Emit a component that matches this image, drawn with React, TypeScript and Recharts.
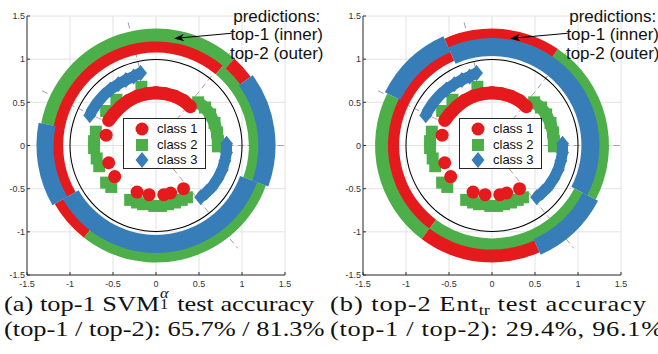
import React from 'react';
import {
  ScatterChart,
  Scatter,
  XAxis,
  YAxis,
  CartesianGrid,
  ReferenceLine,
  PieChart,
  Pie,
  Cell,
  Legend,
} from 'recharts';

// ---------------- data ----------------
const CLASS_COLORS: Record<number, string> = { 1: '#e41a1c', 2: '#4daf4a', 3: '#377eb8' };
const AXIS_TICKS = [-1.5, -1, -0.5, 0, 0.5, 1, 1.5];
const LEGEND_LABELS = ['class 1', 'class 2', 'class 3'];
const ANNOTATION_LINES = ['predictions:', 'top-1 (inner)', 'top-2 (outer)'];

// test points
const class1Arc = [
  { x: 0.4, y: 0.45 }, { x: 0.32, y: 0.52 }, { x: 0.22, y: 0.57 }, { x: 0.11, y: 0.6 },
  { x: 0.0, y: 0.61 }, { x: -0.11, y: 0.6 }, { x: -0.22, y: 0.57 }, { x: -0.32, y: 0.52 },
  { x: -0.41, y: 0.45 }, { x: -0.49, y: 0.37 }, { x: -0.55, y: 0.29 },
];
const class1Points = [
  { x: -0.58, y: 0.12 }, { x: -0.55, y: -0.2 }, { x: -0.48, y: -0.36 }, { x: -0.22, y: -0.54 },
  { x: -0.08, y: -0.57 }, { x: 0.09, y: -0.57 }, { x: 0.17, y: -0.55 }, { x: 0.32, y: -0.5 },
];
const class2ArcRight = [
  { x: 0.49, y: 0.5 }, { x: 0.57, y: 0.44 }, { x: 0.63, y: 0.36 }, { x: 0.68, y: 0.26 },
  { x: 0.71, y: 0.15 }, { x: 0.72, y: 0.05 }, { x: 0.72, y: -0.01 },
];
const class2Bottom = [
  { x: -0.3, y: -0.63 }, { x: -0.22, y: -0.66 }, { x: -0.15, y: -0.68 }, { x: -0.02, y: -0.7 },
  { x: 0.06, y: -0.7 }, { x: 0.14, y: -0.68 }, { x: 0.22, y: -0.66 }, { x: 0.3, y: -0.63 },
  { x: 0.36, y: -0.6 },
];
const class2Points = [
  { x: -0.7, y: 0.16 }, { x: -0.72, y: 0.05 }, { x: -0.72, y: -0.03 }, { x: -0.69, y: -0.15 },
  { x: -0.66, y: -0.24 }, { x: -0.58, y: -0.43 }, { x: -0.52, y: -0.48 },
  { x: -0.58, y: 0.4 }, { x: -0.46, y: 0.53 }, { x: -0.17, y: 0.68 },
];
const class3ArcUpper = [
  { x: -0.18, y: 0.84 }, { x: -0.26, y: 0.8 }, { x: -0.35, y: 0.76 }, { x: -0.44, y: 0.71 },
  { x: -0.53, y: 0.65 }, { x: -0.61, y: 0.58 }, { x: -0.68, y: 0.5 }, { x: -0.74, y: 0.41 },
  { x: -0.77, y: 0.35 },
];
const class3ArcRight = [
  { x: 0.82, y: 0.02 }, { x: 0.82, y: -0.08 }, { x: 0.8, y: -0.18 }, { x: 0.77, y: -0.28 },
  { x: 0.72, y: -0.38 }, { x: 0.66, y: -0.47 }, { x: 0.59, y: -0.54 }, { x: 0.52, y: -0.6 },
];

// class boundary lines (dashed), endpoints in data units
const boundarySegments = [
  { x1: -0.11, y1: 0.57, x2: -0.33, y2: 1.45 },
  { x1: -0.53, y1: 0.25, x2: -1.36, y2: 0.65 },
  { x1: 0.24, y1: 0.3, x2: 0.9, y2: 1.12 },
  { x1: 0.6, y1: 0, x2: 1.5, y2: 0 },
  { x1: 0.2, y1: -0.27, x2: 0.95, y2: -1.19 },
];

// annotation arrow, data units
const arrowFrom = { x: 0.88, y: 1.3 };
const arrowTo = { x: 0.21, y: 1.24 };

// ring radii in data units (class-3 diamonds make a wider band)
const unitCircleRadius = 1;
const innerRingRadii = [1.08, 1.22];
const innerRingWideRadii = [1.04, 1.25];
const outerRingRadii = [1.21, 1.36];
const outerRingWideRadii = [1.19, 1.39];

// prediction rings: class + angular span (deg), counter-clockwise from start angle
const ringAOuterStart = 48;
const ringAOuter = [
  { cls: 2, span: 121 }, { cls: 3, span: 41 }, { cls: 1, span: 22 },
  { cls: 2, span: 108 }, { cls: 3, span: 56 }, { cls: 1, span: 12 },
];
const ringAInnerStart = 50;
const ringAInner = [{ cls: 1, span: 160 }, { cls: 3, span: 130 }, { cls: 2, span: 70 }];

const ringBOuterStart = -27.5;
const ringBOuter = [
  { cls: 2, span: 83.2 }, { cls: 1, span: 58.3 }, { cls: 3, span: 39.6 },
  { cls: 2, span: 79.4 }, { cls: 1, span: 61 }, { cls: 3, span: 38.5 },
];
const ringBInnerStart = -27.5;
const ringBInner = [{ cls: 3, span: 141.5 }, { cls: 1, span: 119 }, { cls: 2, span: 99.5 }];

const unitCircle = [{ cls: 0, span: 360 }];

// ---------------- layout ----------------
const H = 295;
const PLOT_TOP = 16;
const PLOT_BOTTOM = 275;
const PLOT_RIGHT = 285;
const YAXIS_W = 27;
const XAXIS_H = 15;
const PX_PER_UNIT = (PLOT_RIGHT - YAXIS_W) / 3;
const SANS = '"Liberation Sans", Arial, Helvetica, sans-serif';
const SERIF = '"Liberation Serif", "Times New Roman", serif';

const CircleMark = (p: any) => <circle cx={p.cx} cy={p.cy} r={6.5} fill={CLASS_COLORS[1]} />;
const SquareMark = (p: any) => (
  <rect x={p.cx - 6} y={p.cy - 6} width={12} height={12} fill={CLASS_COLORS[2]} />
);
const DiamondMark = (p: any) => (
  <polygon
    points={`${p.cx},${p.cy - 8} ${p.cx + 6.5},${p.cy} ${p.cx},${p.cy + 8} ${p.cx - 6.5},${p.cy}`}
    fill={CLASS_COLORS[3]}
  />
);

const ArrowShape = (p: any) => {
  const { x1, y1, x2, y2 } = p;
  const ang = Math.atan2(y2 - y1, x2 - x1);
  const L = 10;
  const W = 3.6;
  const bx = x2 - L * Math.cos(ang);
  const by = y2 - L * Math.sin(ang);
  const nx = -Math.sin(ang);
  const ny = Math.cos(ang);
  const mx = x2 - 0.7 * L * Math.cos(ang);
  const my = y2 - 0.7 * L * Math.sin(ang);
  const head = `${x2},${y2} ${bx + nx * W},${by + ny * W} ${mx},${my} ${bx - nx * W},${by - ny * W}`;
  return (
    <g>
      <line x1={x1} y1={y1} x2={mx} y2={my} stroke="#000" strokeWidth={1} />
      <polygon points={head} fill="#000" />
      {ANNOTATION_LINES.map((t, i) => (
        <text
          key={t}
          x={x1 + 45}
          y={y1 - 17 + i * 18.5}
          textAnchor="middle"
          dominantBaseline="central"
          fontFamily={SANS}
          fontSize={17}
          fill="#111"
        >
          {t}
        </text>
      ))}
    </g>
  );
};

const LegendIcon = ({ cls }: { cls: number }) => {
  if (cls === 1) return <CircleMark cx={18} cy={8} />;
  if (cls === 2) return <SquareMark cx={18} cy={8} />;
  return <DiamondMark cx={18} cy={8} />;
};

const LegendBox = () => (
  <div
    style={{
      width: 83,
      height: 51,
      boxSizing: 'border-box',
      border: '1px solid #262626',
      background: '#fff',
      position: 'relative',
      fontFamily: SANS,
      fontSize: 13,
      color: '#111',
    }}
  >
    {LEGEND_LABELS.map((lab, i) => (
      <div
        key={lab}
        style={{ position: 'absolute', left: 0, top: 2 + i * 15.5, height: 16, display: 'flex', alignItems: 'center' }}
      >
        <svg width={33} height={16} style={{ display: 'block' }}>
          <LegendIcon cls={i + 1} />
        </svg>
        <span style={{ lineHeight: '16px' }}>{lab}</span>
      </div>
    ))}
  </div>
);

const axisColor = '#333';
const tickStyle = { fontSize: 9, fill: '#333', fontFamily: SANS };

type Seg = { cls: number; span: number };

const RingPie = ({
  data,
  start,
  radii,
  show,
}: {
  data: Seg[];
  start: number;
  radii: number[];
  show: (cls: number) => boolean;
}) => (
  <Pie
    data={data}
    dataKey="span"
    startAngle={start}
    endAngle={start + 360}
    innerRadius={radii[0] * PX_PER_UNIT}
    outerRadius={radii[1] * PX_PER_UNIT}
    stroke="none"
    isAnimationActive={false}
  >
    {data.map((s, i) => (
      <Cell key={i} fill={show(s.cls) ? CLASS_COLORS[s.cls] : 'none'} />
    ))}
  </Pie>
);

type PanelProps = {
  left: number;
  width: number;
  outerStart: number;
  outer: Seg[];
  innerStart: number;
  inner: Seg[];
};

const isWide = (c: number) => c === 3;
const isNarrow = (c: number) => c !== 3;

function Panel({ left, width, outerStart, outer, innerStart, inner }: PanelProps) {
  const margin = { top: PLOT_TOP, right: width - PLOT_RIGHT, bottom: H - PLOT_BOTTOM - XAXIS_H, left: 0 };
  const layer: React.CSSProperties = { position: 'absolute', left: 0, top: 0 };
  return (
    <div style={{ position: 'absolute', left, top: 0, width, height: H }}>
      {/* layer 1: grid, axes, boundaries */}
      <div style={layer}>
        <ScatterChart width={width} height={H} margin={margin}>
          <CartesianGrid stroke="#e2e2e2" strokeWidth={1} />
          <XAxis
            type="number"
            dataKey="x"
            domain={[-1.5, 1.5]}
            ticks={AXIS_TICKS}
            interval={0}
            allowDataOverflow
            height={XAXIS_H}
            tick={tickStyle}
            tickSize={-3}
            tickMargin={9}
            tickLine={{ stroke: axisColor }}
            axisLine={{ stroke: axisColor }}
          />
          <YAxis
            type="number"
            dataKey="y"
            domain={[-1.5, 1.5]}
            ticks={AXIS_TICKS}
            interval={0}
            allowDataOverflow
            width={YAXIS_W}
            tick={tickStyle}
            tickSize={-3}
            tickMargin={5}
            tickLine={{ stroke: axisColor }}
            axisLine={{ stroke: axisColor }}
          />
          {boundarySegments.map((s, i) => (
            <ReferenceLine
              key={i}
              segment={[{ x: s.x1, y: s.y1 }, { x: s.x2, y: s.y2 }]}
              stroke="#a0a0a0"
              strokeWidth={1}
              strokeDasharray="6 4"
            />
          ))}
          <Scatter data={[]} isAnimationActive={false} />
        </ScatterChart>
      </div>
      {/* layer 2: prediction rings and unit circle */}
      <div style={layer}>
        <PieChart
          width={width}
          height={H}
          margin={{ top: PLOT_TOP, right: width - PLOT_RIGHT, bottom: H - PLOT_BOTTOM, left: YAXIS_W }}
        >
          <Pie
            data={unitCircle}
            dataKey="span"
            startAngle={0}
            endAngle={360}
            innerRadius={(unitCircleRadius - 0.006) * PX_PER_UNIT}
            outerRadius={(unitCircleRadius + 0.006) * PX_PER_UNIT}
            stroke="none"
            isAnimationActive={false}
          >
            <Cell fill="#000" />
          </Pie>
          {RingPie({ data: inner, start: innerStart, radii: innerRingRadii, show: isNarrow })}
          {RingPie({ data: outer, start: outerStart, radii: outerRingRadii, show: isNarrow })}
          {RingPie({ data: outer, start: outerStart, radii: outerRingWideRadii, show: isWide })}
          {RingPie({ data: inner, start: innerStart, radii: innerRingWideRadii, show: isWide })}
        </PieChart>
      </div>
      {/* layer 3: test points, legend, annotation */}
      <div style={layer}>
        <ScatterChart width={width} height={H} margin={margin}>
          <XAxis
            type="number"
            dataKey="x"
            domain={[-1.5, 1.5]}
            ticks={AXIS_TICKS}
            allowDataOverflow
            height={XAXIS_H}
            tick={false}
            tickLine={false}
            axisLine={false}
          />
          <YAxis
            type="number"
            dataKey="y"
            domain={[-1.5, 1.5]}
            ticks={AXIS_TICKS}
            allowDataOverflow
            width={YAXIS_W}
            tick={false}
            tickLine={false}
            axisLine={false}
          />
          <Scatter data={class2Bottom} shape={SquareMark} isAnimationActive={false} />
          <Scatter data={class2Points} shape={SquareMark} isAnimationActive={false} />
          <Scatter
            data={class2ArcRight}
            shape={SquareMark}
            line={{ stroke: CLASS_COLORS[2], strokeWidth: 12, strokeLinejoin: 'round' }}
            isAnimationActive={false}
          />
          <Scatter
            data={class3ArcUpper}
            shape={DiamondMark}
            line={{ stroke: CLASS_COLORS[3], strokeWidth: 11, strokeLinejoin: 'round' }}
            isAnimationActive={false}
          />
          <Scatter
            data={class3ArcRight}
            shape={DiamondMark}
            line={{ stroke: CLASS_COLORS[3], strokeWidth: 11, strokeLinejoin: 'round' }}
            isAnimationActive={false}
          />
          <Scatter
            data={class1Arc}
            shape={CircleMark}
            line={{ stroke: CLASS_COLORS[1], strokeWidth: 13, strokeLinejoin: 'round' }}
            isAnimationActive={false}
          />
          <Scatter data={class1Points} shape={CircleMark} isAnimationActive={false} />
          <ReferenceLine segment={[arrowFrom, arrowTo]} ifOverflow="visible" shape={ArrowShape} />
          <Legend
            layout="vertical"
            align="center"
            verticalAlign="middle"
            content={() => <LegendBox />}
            wrapperStyle={{ left: 123, top: 118, width: 83, height: 51, right: 'auto', bottom: 'auto' }}
          />
        </ScatterChart>
      </div>
    </div>
  );
}

const captionStyle: React.CSSProperties = {
  position: 'absolute',
  top: 291,
  fontFamily: SERIF,
  fontSize: 22,
  lineHeight: '25px',
  whiteSpace: 'nowrap',
  color: '#111',
  transform: 'scaleX(1.2)',
  transformOrigin: 'left top',
};

const SupSub = ({ sup, sub }: { sup: string; sub: string }) => (
  <span style={{ display: 'inline-block', position: 'relative', width: '0.42em', height: '0.8em' }}>
    <span style={{ position: 'absolute', left: '0.04em', top: '-0.5em', fontSize: '0.62em', fontStyle: 'italic', lineHeight: 1 }}>
      {sup}
    </span>
    <span style={{ position: 'absolute', left: '0.04em', top: '0.36em', fontSize: '0.62em', lineHeight: 1 }}>{sub}</span>
  </span>
);

export default function App() {
  return (
    <div style={{ position: 'absolute', left: 0, top: 0, width: 658, height: 354, overflow: 'hidden', background: '#fff' }}>
      <Panel left={0} width={330} outerStart={ringAOuterStart} outer={ringAOuter} innerStart={ringAInnerStart} inner={ringAInner} />
      <Panel left={336} width={322} outerStart={ringBOuterStart} outer={ringBOuter} innerStart={ringBInnerStart} inner={ringBInner} />
      <div style={{ ...captionStyle, left: 4 }}>
        <div>
          (a) top-1 SVM<SupSub sup="α" sub="1" /> test accuracy
        </div>
        <div>(top-1 / top-2): 65.7% / 81.3%</div>
      </div>
      <div style={{ ...captionStyle, left: 330 }}>
        <div style={{ letterSpacing: 0.8 }}>
          (b) top-2 Ent
          <span style={{ fontSize: '0.68em', position: 'relative', top: '0.26em', lineHeight: 0, letterSpacing: 0 }}>tr</span> test
          accuracy
        </div>
        <div style={{ letterSpacing: 0.6 }}>(top-1 / top-2): 29.4%, 96.1%</div>
      </div>
    </div>
  );
}
